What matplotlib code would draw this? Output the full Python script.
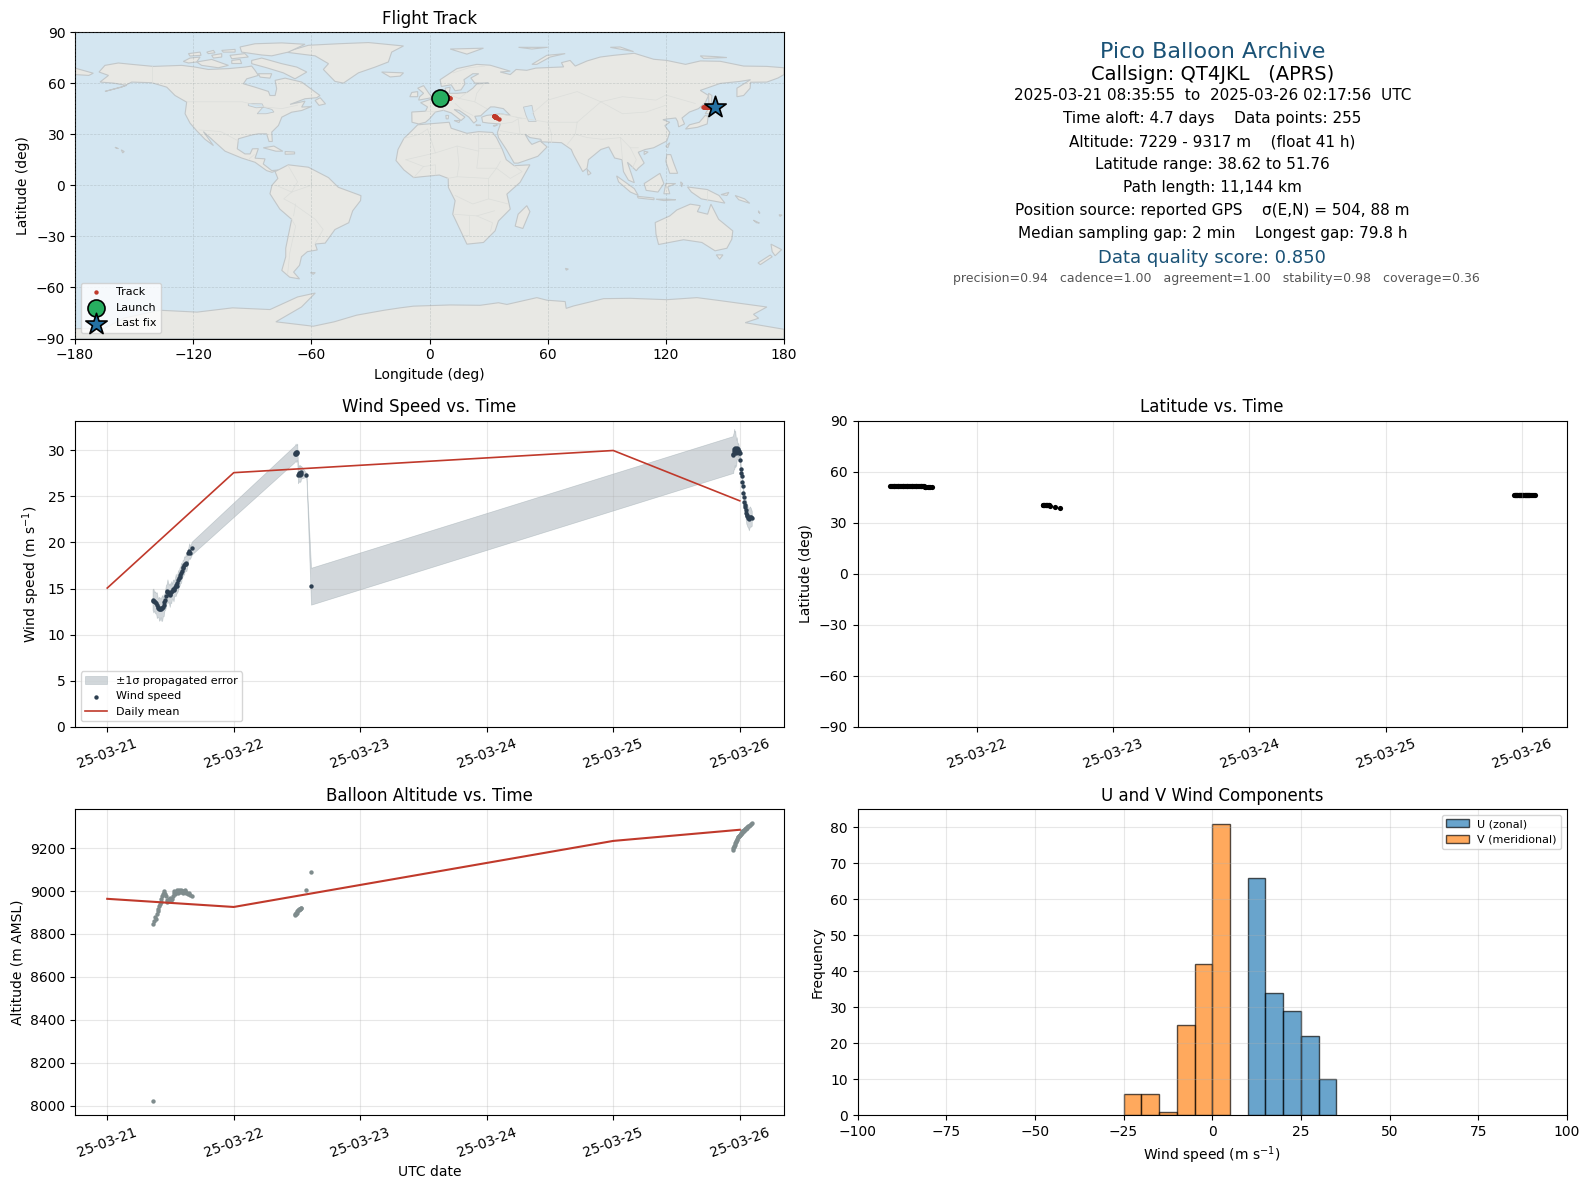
import numpy as np
import matplotlib
matplotlib.use("Agg")
import matplotlib.pyplot as plt
import matplotlib.dates as mdates
from matplotlib.patches import Polygon

# ---- flight data: days since 2025-03-21 00:00 UTC ----
t_a = [.358,.365,.372,.379,.386,.392,.398,.404,.410,.416,.422,.428,.434,.440,.446,.452,.458,.464,.470,.476,.482,.488,.494,.500,.506,.512,.518,.524,.530,.536,.542,.548,.554,.560,.566,.572,.578,.584,.590,.596,.602,.608,.614,.620,.626,.642,.648,.654,.670]
wind_a = [13.8,13.7,13.6,13.5,13.4,13.2,13.0,12.9,12.8,12.8,12.9,12.8,12.9,13.0,13.2,13.5,13.8,14.2,14.6,14.7,14.6,14.4,14.3,14.4,14.6,14.7,14.9,14.8,15.0,15.2,15.4,15.3,15.6,15.9,16.1,16.3,16.5,16.7,16.9,17.2,17.3,17.5,17.7,17.8,17.7,18.8,19.1,18.9,19.4]
err_a = [1.1,1.3,1.0,1.2,1.1,1.4,1.1,1.0,1.3,1.2,1.0,1.3,1.4,1.0,1.2,0.9,1.1,1.2,0.9,1.3,1.0,1.0,1.3,0.9,1.2,0.8,1.0,1.2,0.8,1.0,1.2,0.8,1.0,1.1,0.8,1.0,0.9,1.1,0.7,0.9,0.8,1.0,0.7,0.9,0.8,0.7,0.8,0.7,0.7]
alt_a = [8020,8846,8860,8877,8870,8892,8905,8915,8930,8938,8950,8961,8975,8985,8990,9000,8985,8975,8960,8950,8955,8962,8965,8970,8960,8965,8975,8990,9000,8985,8998,9005,9000,8990,9005,9000,8995,9005,8998,9002,8990,9000,9005,8995,8992,8985,8990,8982,8977]
lat_a = [51.76,51.76,51.76,51.76,51.76,51.76,51.76,51.76,51.76,51.76,51.76,51.76,51.76,51.76,51.76,51.76,51.76,51.76,51.76,51.76,51.76,51.76,51.7,51.7,51.7,51.7,51.7,51.7,51.7,51.7,51.7,51.7,51.7,51.7,51.7,51.7,51.7,51.7,51.7,51.7,51.6,51.6,51.0,51.0,51.0,51.0,51.0,51.0,51.0]
lon_a = [5.4,5.5,5.6,5.7,5.8,5.9,6.0,6.1,6.2,6.3,6.4,6.5,6.6,6.7,6.8,6.9,7.0,7.1,7.2,7.3,7.4,7.5,7.6,7.7,7.8,7.9,8.0,8.1,8.2,8.3,8.4,8.5,8.6,8.7,8.8,8.9,9.0,9.1,9.2,9.3,9.4,9.5,9.6,9.7,9.8,10.0,10.1,10.2,10.4]

t_b = [1.482,1.486,1.490,1.494,1.498,1.502,1.508,1.512,1.516,1.520,1.524,1.528,1.532,1.574,1.611]
wind_b = [29.6,29.7,29.8,29.6,29.7,29.8,27.3,27.4,27.5,27.3,27.5,27.4,27.6,27.3,15.25]
err_b = [0.9,0.9,0.9,0.9,0.9,0.9,0.9,0.8,0.9,0.8,0.9,0.8,0.7,0.2,2.0]
alt_b = [8888,8892,8895,8900,8905,8900,8910,8912,8915,8915,8918,8920,8920,9003,9091]
lat_b = [40.6,40.6,40.5,40.5,40.4,40.4,40.3,40.3,40.2,40.2,40.1,40.1,40.0,39.4,38.62]
lon_b = [32.6,32.7,32.8,32.9,33.0,33.1,33.2,33.3,33.4,33.5,33.6,33.7,33.8,34.5,35.1]

t_c = [4.944,4.948,4.952,4.956,4.960,4.964,4.968,4.972,4.976,4.980,4.984,4.988,4.992,4.996,5.000,5.003,5.008,5.012,5.016,5.020,5.024,5.028,5.032,5.036,5.040,5.044,5.048,5.052,5.056,5.060,5.066,5.072,5.080,5.088,5.095]
wind_c = [29.5,29.6,29.9,30.1,30.2,30.1,29.9,29.7,30.2,30.0,29.8,30.1,29.9,29.7,29.7,28.9,27.9,27.5,27.2,26.5,26.1,25.3,24.9,24.4,24.0,23.8,23.5,23.2,23.0,22.9,22.6,22.5,22.8,22.7,22.6]
err_c = [2.0,2.1,2.0,2.2,1.8,2.0,1.6,1.4,1.2,1.0,0.8,0.7,0.6,0.6,0.5,0.5,0.4,0.5,0.4,0.5,0.4,0.5,0.5,0.6,0.8,1.0,1.1,1.2,1.1,1.2,1.0,1.2,1.1,1.0,0.8]
alt_c = [9190,9200,9205,9210,9215,9222,9228,9232,9238,9245,9250,9252,9255,9258,9260,9262,9268,9270,9272,9278,9280,9282,9280,9285,9288,9290,9292,9290,9295,9300,9302,9305,9308,9312,9317]
lat_c = [46.2,46.2,46.2,46.2,46.2,46.2,46.2,46.2,46.2,46.2,46.2,46.2,46.2,46.2,46.2,46.2,46.2,46.2,46.2,46.2,46.2,46.2,46.2,46.2,46.1,46.1,46.1,46.1,46.1,46.1,46.1,46.0,46.0,46.0,46.0]
lon_c = [139.0,139.2,139.4,139.6,139.8,140.0,140.2,140.4,140.6,140.8,141.0,141.2,141.4,141.6,141.8,142.0,142.2,142.4,142.6,142.8,143.0,143.2,143.3,143.4,143.5,143.6,143.7,143.8,143.9,144.0,144.1,144.2,144.4,144.6,144.8]

time_days = np.array(t_a + t_b + t_c)
wind_speed = np.array(wind_a + wind_b + wind_c)
wind_err = np.array(err_a + err_b + err_c)
altitude = np.array(alt_a + alt_b + alt_c)
latitude = np.array(lat_a + lat_b + lat_c)
longitude = np.array(lon_a + lon_b + lon_c)

mean_days = [0, 1, 4, 5]
mean_wind = [15.05, 27.55, 29.95, 24.5]
mean_alt = [8964, 8926, 9234, 9286]

launch_pos = (5.4, 51.4)
last_pos = (144.8, 46.0)

hist_u_edges = [10, 15, 20, 25, 30]
hist_u_counts = [66, 34, 29, 22, 10]
hist_v_edges = [-25, -20, -15, -10, -5, 0]
hist_v_counts = [6, 6, 1, 25, 42, 81]

info_lines = [
    ("Pico Balloon Archive", 16, "#1a5276", 51.5, 0),
    ("Callsign: QT4JKL   (APRS)", 14, "black", 73.5, 0),
    ("2025-03-21 08:35:55  to  2025-03-26 02:17:56  UTC", 11, "black", 94.5, 0),
    ("Time aloft: 4.7 days    Data points: 255", 11, "black", 117.2, 0),
    ("Altitude: 7229 - 9317 m    (float 41 h)", 11, "black", 140, 0),
    ("Latitude range: 38.62 to 51.76", 11, "black", 162.6, 0),
    ("Path length: 11,144 km", 11, "black", 185.2, 0),
    ("Position source: reported GPS    \u03c3(E,N) = 504, 88 m", 11, "black", 208.4, 0),
    ("Median sampling gap: 2 min    Longest gap: 79.8 h", 11, "black", 230.8, 0),
    ("Data quality score: 0.850", 13, "#1a5276", 255, 0),
    ("precision=0.94   cadence=1.00   agreement=1.00   stability=0.98   coverage=0.36", 9, "#555555", 275, 4),
]

# ---- world outline (lon, lat) ----
land_north_america = [(-167.8,66.5),(-164.8,70.4),(-158,71.8),(-151.2,71),(-140.2,69.8),(-125.8,70.4),(-119,69.4),(-112.3,68),(-102.1,68.5),(-93.7,69.4),(-90.3,70),(-88.6,67.5),(-86.9,64.5),(-92.8,62.5),(-94.5,59.6),(-88.6,57.6),(-81.8,55.1),(-81,52.7),(-78.4,52.7),(-77.6,56.7),(-78.4,61.6),(-73.3,62.9),(-64.9,60.6),(-55.6,52.7),(-57.3,51.4),(-63.2,50.8),(-70.8,47.5),(-63.2,49.4),(-64.9,45.9),(-60,46.2),(-64.9,43.9),(-70,42.9),(-75,40),(-76.7,35.1),(-80.1,31.2),(-79.8,25.7),(-81.5,25.7),(-82.7,30.2),(-86.9,30.2),(-90.3,29.5),(-97,27.3),(-97.6,21.4),(-93.7,18.4),(-91.1,18.4),(-89.9,21.4),(-86.9,21.5),(-88.6,15.9),(-83.5,15.5),(-84.4,12.5),(-80.1,8.6),(-76.7,9),(-80,7.6),(-82.7,8.6),(-88.6,13.5),(-95.4,16),(-103.8,20),(-108.9,25.3),(-114.8,31.5),(-109.7,23.3),(-114,27),(-118.2,32),(-121.6,36.5),(-124.1,42),(-123.3,48.8),(-129.2,52.7),(-133.4,57.6),(-141,60.2),(-151.2,60.6),(-156.3,57.6),(-164.8,55.1),(-153.8,58.6),(-160.5,60),(-167.3,60.6),(-163,64.5)]
land_greenland = [(-73.3,78.2),(-61.5,82.2),(-46.3,83.1),(-31,83.8),(-13.2,81.8),(-19.2,78.2),(-20.9,72.4),(-27.6,69.4),(-36.1,66),(-43.7,60),(-48,61),(-53.9,68),(-51.3,71.4),(-58.1,76)]
land_south_america = [(-78.4,8),(-71.7,12),(-61.5,10.6),(-51.3,4.5),(-46.3,-1.2),(-34.8,-6.1),(-35,-9),(-39,-15),(-41,-22),(-48,-26),(-53,-34),(-58,-34.5),(-57,-38),(-62,-39),(-65,-42),(-66,-47),(-69,-51),(-66,-55),(-71,-54),(-75,-50),(-73,-42),(-73,-37),(-70,-20),(-76,-14),(-81,-5),(-80,0),(-77,4)]
land_eurasia = [(-8.9,37),(-9,43),(-2,43.5),(-1,46),(-4.5,48.5),(2,51),(4,52),(8,54),(8,57),(10.5,57.6),(10,54),(14,54),(19,54.5),(22,57),(24,59.5),(30,60),(23,60),(21,63),(25,65.5),(22,65.5),(17.5,62),(18,59.5),(16,56),(13,55.5),(11,59),(6,58),(5.4,62),(13.9,68.5),(24,71),(30.8,70.5),(41,67),(35.9,66.5),(41,65),(44,68),(49.4,67.5),(54,68.8),(68.1,69.5),(67,72),(71.4,73.3),(74,70),(80,73),(86.7,75.3),(93.5,76.3),(104,77.5),(113.8,74),(120.5,73.3),(130,71),(137.5,73),(147.6,72.8),(159.5,70),(171.3,69.8),(180,69),(180,65),(177,63),(171.3,60.6),(163,60.5),(162.8,57),(159.5,52.7),(156.1,52),(156.1,57),(163,62),(157.8,61),(147.6,59.8),(137.5,55.7),(141.7,52.7),(140,48.5),(136.6,45),(132,43),(128.2,39.5),(129.5,36),(126.5,34.3),(126,37.5),(125,39.5),(121,39),(118.5,38.5),(122,37),(119.5,35),(122,31),(120.5,26),(113.8,22),(109.5,21),(106,19.4),(109,13),(106,10),(105,8.5),(100.5,13.5),(103,5),(104,1.5),(101,3),(98.5,8),(97.7,15),(94,16),(91,22.5),(87,21),(80.7,15),(80,10),(77.8,8),(73.1,18),(72,21),(67,25),(57,25.5),(56.5,27),(51,28),(48.5,30),(50.5,26),(52,24),(56.2,26),(59.7,22.5),(55,17),(45,13),(43,13),(39,21),(35,28),(34.5,31),(36,36),(30,36.5),(27,37),(26.5,40),(29,41),(36,42),(41,41),(37.5,45),(33,46),(31,46),(28,43),(26,40.8),(23,40.5),(24,38),(22.5,36.5),(20,40),(15,44),(12.5,44.5),(18,40),(16,38),(11,42.5),(7,44),(3,43),(0,39),(-2,37),(-5.5,36)]
land_chukotka_west = [(-180,68.8),(-170.7,65.8),(-173,64.5),(-180,65)]
land_africa = [(-6,35.5),(10,37),(11,33.5),(19,30.5),(25,31.5),(32,31),(34,28),(37,21),(39,15),(43,11.5),(51,12),(46,1.7),(39.3,-5.2),(41,-14),(35,-21),(33.3,-26.8),(27.4,-33.6),(19,-34.6),(11.8,-17),(13,-9.1),(9.6,-1.3),(9.5,4),(5,6),(-4,5),(-8,4.5),(-13,9),(-17,14.5),(-16,21),(-13,27.5),(-9,32)]
land_australia = [(114.6,-21.9),(122,-18),(125.6,-14.5),(132.4,-11.1),(137.5,-12),(136,-15.5),(141.2,-17),(142.9,-11.1),(146.8,-20),(154,-26.8),(153.5,-31.7),(151,-37),(145,-38.5),(138.3,-33.6),(129,-32),(116.3,-34.8),(115,-28.7)]
land_antarctica = [(-180,-84.2),(-165,-84),(-155,-78),(-137,-73.4),(-118,-74.5),(-100,-72),(-81,-73),(-67,-65.6),(-58,-63.3),(-65,-71.5),(-78,-80.2),(-59,-82.8),(-48.4,-80.2),(-37,-76.3),(-23,-73.4),(-14.9,-72),(-8.1,-71),(10.5,-70.3),(25.7,-70.5),(35,-69),(39.3,-70),(54.5,-66),(59.6,-67.5),(68.9,-68.3),(69.4,-72.3),(73.1,-70.9),(88.4,-66.6),(101.9,-66.4),(120.5,-67.2),(135.8,-66),(145.9,-67.5),(171.3,-71.5),(164.5,-75.8),(167.1,-78.1),(160.3,-80.7),(180,-84.6),(180,-90),(-180,-90)]
land_islands = [
    [(-125,72.7),(-121.6,74.7),(-116.5,75.3),(-118.2,72.4),(-122.4,71.8)],
    [(-118.2,72.4),(-110.6,73.9),(-102.1,70.4),(-107.2,69),(-115.7,70.4)],
    [(-122.4,77.3),(-116.5,78.2),(-116,76.3),(-121.6,75.9)],
    [(-113.1,78.2),(-109.7,79.2),(-108.9,77.8),(-112.3,77.3)],
    [(-110.6,76.3),(-105.5,77.3),(-105.5,75.3),(-109.7,74.7)],
    [(-101.3,76.3),(-93.7,77.3),(-92,75.3),(-100.4,74.3)],
    [(-105.5,79.2),(-98.7,79.8),(-98.7,78.2),(-104.7,78.2)],
    [(-100.4,73.3),(-96.2,73.9),(-95.4,71.5),(-100.4,71.5)],
    [(-90.3,73.3),(-85.2,74.7),(-75,71.4),(-67.4,69.4),(-62.3,66.5),(-68.3,62.5),(-74.2,66),(-82.7,69),(-90.3,71.4)],
    [(-96.2,81.2),(-88.6,83.1),(-75,83.6),(-63.2,82.8),(-71.7,78.2),(-80.1,76),(-85.2,76.5),(-95.4,78.2)],
    [(-86.9,65.5),(-80.1,65.5),(-81,62.9),(-86,63.5)],
    [(-24.3,66.5),(-13.2,66),(-14.9,64.1),(-20,63.6)],
    [(-58.1,49.8),(-55.5,51.4),(-52.8,47.8),(-56.1,46.9)],
    [(-84.4,22),(-79,23),(-74.5,20),(-78,20)],
    [(-73.3,19.8),(-68.5,19.5),(-68.5,18.4),(-73.3,18.2)],
    [(-159.7,22.3),(-158,21.5),(-159,21.8)],
    [(-156.5,20.8),(-155,19.8),(-155.8,19)],
    [(10.5,80),(27.4,80.5),(19,77)],
    [(45.2,81),(60,81),(52,80)],
    [(52,71),(59.6,76.3),(68.9,77.3),(61.3,75.3),(54.5,71)],
    [(91.8,81),(103.6,78.5),(96.8,81.2)],
    [(137.5,76),(145.9,75.5),(151,75),(139.2,74.5)],
    [(-5.5,50),(1.5,51.5),(0,53.5),(-3,58.5),(-6,57),(-3,54),(-5,52)],
    [(-10,52),(-6,52),(-6,55),(-9,54.5)],
    [(49.4,-12),(51,-15.5),(47.4,-25.4),(43.5,-24),(45,-17)],
    [(145.6,-40.9),(149,-40.9),(147.3,-43.4)],
    [(173.4,-34.6),(178.8,-37.8),(175.5,-41.4),(174,-39)],
    [(173,-41),(174,-42),(168,-46.6),(166.8,-45.6)],
    [(130,33),(136,34),(141,36),(141.5,40.5),(140,41),(137,37),(132,35.5)],
    [(140,42),(142,45.5),(145,43),(141,42)],
    [(141.7,54),(143.4,52.7),(143,46.2),(141.9,47)],
    [(95,5.5),(104,-2),(106,-6),(102,-4),(96,2)],
    [(105.5,-6.5),(114,-7.5),(114,-8.5),(106,-7.5)],
    [(115,-8.2),(121,-8.2),(125,-8.5),(119,-9)],
    [(109,1),(117,7),(119,1),(116,-4),(110,-3)],
    [(120,1),(125,1),(121,-1),(122,-5),(119,-5)],
    [(127.5,2),(128.5,1),(128,-1)],
    [(131,-1),(141,-2.5),(147,-6),(150,-10.5),(143,-9),(138,-8),(133,-4)],
    [(148,-5.5),(152,-4.2),(151,-6)],
    [(155.2,-6),(160,-8),(162.6,-10.6),(157,-8.5)],
    [(120.5,18),(122.5,18),(124,13),(126,7),(122,7),(120,14)],
    [(80,9.5),(82,7),(80.5,6)],
    [(120,23),(122,25),(121,22)],
    [(109,20),(111,19.5),(109,18)],
    [(12.5,38),(15.5,38),(15,36.8)],
    [(8.3,41),(9.7,41),(9.5,39),(8.5,39)],
    [(23.5,35.5),(26,35.2),(24,35)],
    [(32.3,35),(34.5,35.5),(33,34.6)],
    [(-60.5,-51.3),(-58,-51.3),(-59,-52.3)],
    [(69,-48.8),(70.5,-49.2),(69.5,-49.9)],
    [(164.5,-20.5),(167.5,-22.2),(166,-22)],
    [(167,-15),(167.8,-16.5),(167.2,-16)],
    [(177.5,-17.3),(179,-17.5),(178,-18.3)],
]
inland_seas = [
    [(47.7,45.9),(52,46.9),(53,41),(54.2,37.5),(50.3,37.5),(49,41)],
    [(-92,48),(-85,47.8),(-84.3,46.2),(-87.5,42),(-83,42),(-79,43),(-80,44.5),(-84,45.8),(-88,45.5),(-92,46.8)],
]
border_lines = [
    [(-141,70),(-141,60)],[(-123,49),(-95,49),(-84,46),(-75,45),(-67,47)],
    [(-117,32.5),(-106,31.5),(-97,26)],[(-92,15),(-89,18)],
    [(-72,12),(-67,2),(-70,-4),(-74,-8),(-69,-11),(-58,-20),(-54,-26),(-58,-34)],
    [(-70,-20),(-68,-24),(-71,-40),(-72,-52)],[(-60,5),(-60,0),(-70,-4)],
    [(-78,0),(-70,-4)],[(-68,-11),(-69,-18)],
    [(-2,43.5),(3,43)],[(2,51),(7,48),(7,44)],[(8,54),(15,51),(19,54.5)],[(15,51),(23,49),(29,45)],
    [(23,49),(24,54),(28,60)],[(13,48),(17,44),(22,41)],[(12,66),(20,69),(28,70)],
    [(36,42),(44,40),(47,39)],[(36,36),(42,37),(45,39)],[(45,39),(46,30),(48,30)],[(46,30),(36,32)],
    [(44,40),(60,37),(67,37),(75,37)],[(60,37),(62,30),(62,25)],[(75,37),(74,30),(70,24)],
    [(74,30),(80,28),(88,27),(97,28)],[(97,28),(98,15)],[(97,28),(102,22),(106,22)],[(102,22),(105,15),(103,10)],
    [(52,42),(60,50),(75,55),(87,49),(98,52),(115,50),(120,53),(135,48)],[(87,49),(80,42),(75,37)],
    [(87,49),(98,42),(110,43),(120,47)],
    [(-13,27.5),(-5,30),(-1,33)],[(-1,33),(3,19),(14,23),(25,20),(25,31)],[(25,22),(36,22)],[(3,19),(-12,15)],
    [(14,23),(15,12),(14,5),(9,4)],[(25,20),(24,10),(34,10),(36,14)],[(34,10),(41,4),(47,8),(43,11.5)],
    [(14,5),(30,4),(34,10)],[(30,4),(30,-8),(40,-11)],[(13,-6),(22,-11),(30,-8)],
    [(12,-17),(24,-18),(33,-15)],[(20,-18),(20,-29),(17,-29)],[(24,-18),(32,-22),(31,-27)],
    [(-8,4.5),(-3,11),(3,12),(3,6)],[(-12,15),(-3,11)],[(141,-2.5),(141,-9)],
]

plt.rcParams.update({"font.size": 10})
W, H = 1589, 1189
fig = plt.figure(figsize=(W / 100, H / 100), dpi=100)

def place(x0, x1, y0, y1):
    return fig.add_axes([x0 / W, 1 - y1 / H, (x1 - x0) / W, (y1 - y0) / H])

TRACK = "#c0392b"
DOT = "#2c3e50"
ALT = "#7f8c8d"
OCEAN = "#d4e6f1"

# ---- flight track map ----
ax_map = place(75, 784, 32, 338.5)
ax_map.set_facecolor(OCEAN)
polys = [land_north_america, land_greenland, land_south_america, land_eurasia, land_chukotka_west, land_africa,
         land_australia, land_antarctica] + land_islands
for p in polys:
    ax_map.add_patch(Polygon(p, closed=True, facecolor="#e8e8e4", edgecolor="#c2c7c9", lw=0.8, zorder=1))
for p in inland_seas:
    ax_map.add_patch(Polygon(p, closed=True, facecolor=OCEAN, edgecolor="#c2c7c9", lw=0.6, zorder=1.1))
for line in border_lines:
    xs, ys = zip(*line)
    ax_map.plot(xs, ys, color="#dcdedb", lw=0.5, zorder=1.2)
ax_map.grid(True, color="#7f8c8d", alpha=0.3, lw=0.5, ls="--", zorder=1.3)
ax_map.set_axisbelow(False)
ax_map.scatter(longitude, latitude, s=10, color=TRACK, linewidths=0, label="Track", zorder=3)
ax_map.scatter(*launch_pos, s=150, color="#27ae60", edgecolors="black", linewidths=1.2, label="Launch", zorder=4)
ax_map.scatter(*last_pos, s=260, marker="*", color="#2471a3", edgecolors="black", linewidths=1.2, label="Last fix", zorder=4)
ax_map.set_xlim(-180, 180)
ax_map.set_ylim(-90, 90)
ax_map.set_xticks(np.arange(-180, 181, 60))
ax_map.set_yticks(np.arange(-90, 91, 30))
ax_map.set_xlabel("Longitude (deg)")
ax_map.set_ylabel("Latitude (deg)")
ax_map.set_title("Flight Track", fontsize=12)
ax_map.legend(loc="lower left", fontsize=8)

# ---- info panel ----
ax_info = place(857.5, 1567, 32, 338.5)
ax_info.axis("off")
for text, size, color, y_seen, dx in info_lines:
    ax_info.text(0.5 + dx / 700, 1 - (y_seen * 1.0134 - 32.5) / 306, text, ha="center", va="center",
                 fontsize=size, color=color, transform=ax_info.transAxes)

base = mdates.date2num(np.datetime64("2025-03-21"))
date_fmt = mdates.DateFormatter("%y-%m-%d")

def style_dates(ax):
    ax.xaxis.set_major_locator(mdates.DayLocator())
    ax.xaxis.set_major_formatter(date_fmt)
    ax.tick_params(axis="x", rotation=20)
    ax.grid(True, alpha=0.3)

# ---- wind speed ----
ax_w = place(75, 784, 420.5, 727)
ax_w.fill_between(base + time_days, wind_speed - wind_err, wind_speed + wind_err, color="#7f8f98", alpha=0.35,
                  linewidth=0.5, label="\u00b11\u03c3 propagated error")
ax_w.scatter(base + time_days, wind_speed, s=10, color=DOT, linewidths=0, label="Wind speed", zorder=3)
ax_w.plot(base + np.array(mean_days), mean_wind, color=TRACK, lw=1.2, label="Daily mean", zorder=2.5)
style_dates(ax_w)
ax_w.set_ylim(0, 33.2)
ax_w.set_ylabel("Wind speed (m s$^{-1}$)")
ax_w.set_title("Wind Speed vs. Time", fontsize=12)
ax_w.legend(loc="lower left", fontsize=8)

# ---- latitude ----
ax_l = place(857.5, 1567, 420.5, 727)
ax_l.scatter(base + time_days, latitude, s=14, color="black", linewidths=0)
style_dates(ax_l)
ax_l.set_ylim(-90, 90)
ax_l.set_yticks(np.arange(-90, 91, 30))
ax_l.set_ylabel("Latitude (deg)")
ax_l.set_title("Latitude vs. Time", fontsize=12)

# ---- altitude ----
ax_a = place(75, 784, 809.2, 1115.2)
ax_a.scatter(base + time_days, altitude, s=10, color=ALT, linewidths=0, zorder=2)
ax_a.plot(base + np.array(mean_days), mean_alt, color=TRACK, lw=1.5, zorder=2.5)
style_dates(ax_a)
ax_a.set_xlabel("UTC date")
ax_a.set_ylabel("Altitude (m AMSL)")
ax_a.set_title("Balloon Altitude vs. Time", fontsize=12)

# ---- U / V histogram ----
ax_h = place(857.5, 1567, 809.2, 1115.2)
ax_h.bar(hist_u_edges, hist_u_counts, width=5, align="edge", color="#1f77b4", alpha=0.67,
         edgecolor="black", linewidth=1.0, label="U (zonal)")
ax_h.bar(hist_v_edges, hist_v_counts, width=5, align="edge", color="#ff7f0e", alpha=0.67,
         edgecolor="black", linewidth=1.0, label="V (meridional)")
ax_h.set_xlim(-100, 100)
ax_h.grid(True, alpha=0.3)
ax_h.set_xlabel("Wind speed (m s$^{-1}$)")
ax_h.set_ylabel("Frequency")
ax_h.set_title("U and V Wind Components", fontsize=12)
ax_h.legend(loc="upper right", fontsize=8)

fig.savefig("out.png", dpi=100)
